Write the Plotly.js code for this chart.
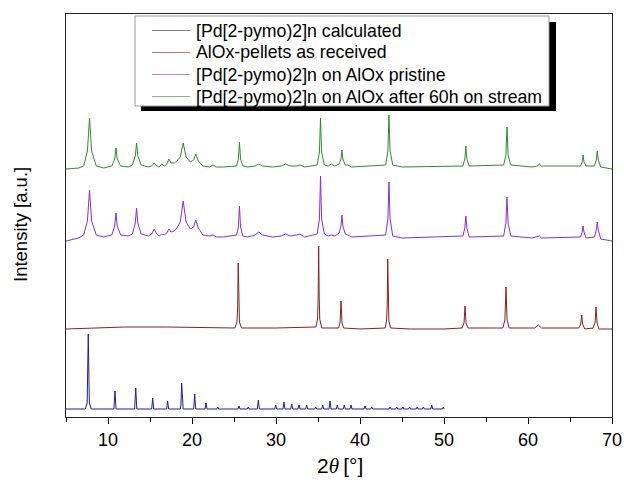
<!DOCTYPE html>
<html>
<head>
<meta charset="utf-8">
<script src="https://cdn.plot.ly/plotly-3.0.1.min.js"></script>
<style>html,body{margin:0;padding:0;background:#fff;}#chart{width:624px;height:489px;}</style>
</head>
<body>
<div id="chart"></div>
<script>
// Series names (legend order)
const seriesNames = [
  "[Pd[2-pymo)2]n calculated",
  "AlOx-pellets as received",
  "[Pd[2-pymo)2]n on AlOx pristine",
  "[Pd[2-pymo)2]n on AlOx after 60h on stream"
];
const xTickVals = [10, 20, 30, 40, 50, 60, 70];

// [2theta, stacked intensity (a.u.)]
const calculated = [
  [5,8],[7.3,8],[7.52,14],[7.65,83],[7.78,14],[8.0,8],
  [10.7,8],[10.83,26],[10.96,8],[13.17,8],[13.3,29],[13.43,8],
  [15.2,8],[15.32,19],[15.44,8],[16.98,8],[17.1,16],[17.22,8],
  [18.6,8],[18.68,12],[18.77,34],[18.86,12],[18.95,8],[20.2,8],[20.32,23],[20.44,8],
  [21.55,8],[21.67,14],[21.79,8],[22.95,8],[23.06,10],[23.17,8],
  [25.48,8],[25.6,11],[25.72,8],[26.58,8],[26.7,10],[26.82,8],[27.78,8],[27.9,17],[28.02,8],
  [29.84,8],[29.96,12],[30.08,8],[30.83,8],[30.95,15],[31.07,8],[31.75,8],[31.87,13],[31.99,8],
  [32.62,8],[32.74,12],[32.86,8],[33.53,8],[33.65,12],[33.77,8],[34.61,8],[34.73,10],[34.85,8],
  [35.44,8],[35.56,12],[35.68,8],[36.31,8],[36.43,16],[36.55,8],[37.18,8],[37.3,12],[37.42,8],
  [38.01,8],[38.13,12],[38.25,8],[38.81,8],[38.93,12],[39.05,8],[40.48,8],[40.6,11],[40.72,8],
  [41.27,8],[41.39,10],[41.51,8],[43.45,8],[43.57,10],[43.69,8],[44.25,8],[44.37,10],[44.49,8],
  [44.98,8],[45.1,10],[45.22,8],[45.78,8],[45.9,10],[46.02,8],[46.68,8],[46.8,10],[46.92,8],
  [47.42,8],[47.54,10],[47.66,8],[48.42,8],[48.54,12],[48.66,8],[49.8,8],[49.92,10],[50,8]
];
const asReceived = [
  [5,88],[8,89],[12,90],[17,90],[22,89],[25.1,89],[25.35,95],[25.44,110],[25.5,154],[25.56,110],[25.65,95],[25.9,89],[30,89],
  [34.75,90],[34.95,98],[35.02,120],[35.08,171],[35.14,120],[35.21,98],[35.45,89],[37.45,89],[37.62,94],[37.74,116],[37.86,94],[38.05,89],
  [40,88],[43.0,89],[43.16,96],[43.24,112],[43.3,158],[43.36,112],[43.44,96],[43.65,89],[46,88],[50,88],
  [52.15,89],[52.38,94],[52.5,111],[52.62,94],[52.85,89],[57.0,89],[57.25,97],[57.38,130],[57.51,97],[57.75,89],
  [60.8,89],[61.23,92],[61.6,89],[66.05,89],[66.28,93],[66.39,102],[66.5,93],[66.75,88],
  [67.75,89],[67.98,94],[68.1,110],[68.22,94],[68.45,88],[70,88]
];
const pristine = [
  [5,176],[6.5,179],[7.1,182],[7.55,196],[7.8,227],[8.05,196],[8.6,182],[9.5,180],
  [10.45,182],[10.8,191],[10.95,204],[11.1,191],[11.5,182],[12.4,181],
  [12.9,183],[13.25,194],[13.4,209],[13.55,194],[13.95,183],[14.8,181],
  [15.2,183],[15.5,188],[15.8,183],[16.1,181],[16.4,183],[16.7,182],[17.0,184],[17.25,188],[17.5,185],
  [17.9,186],[18.2,189],[18.6,195],[18.95,216],[19.3,195],[19.8,188],[20.2,190],[20.45,197],[20.75,189],
  [21.3,182],[22.1,181],[22.5,182],[22.9,180],[23.7,180],
  [25.3,182],[25.52,190],[25.65,211],[25.78,190],[26.05,181],[26.65,180],[27.5,182],[27.95,185],[28.4,182],
  [29.6,180],[30.6,181],[31.15,183],[31.7,181],[32.4,182],[32.85,183],[33.4,180],
  [34.9,183],[35.17,198],[35.3,241],[35.43,198],[35.75,183],[36.2,181],[36.6,182],[37.0,181],
  [37.5,184],[37.74,191],[37.85,202],[37.96,191],[38.25,183],[38.55,182],[39,180],
  [43.05,182],[43.32,198],[43.45,235],[43.58,198],[43.9,181],[45,179],
  [52.25,181],[52.48,189],[52.6,201],[52.72,189],[53.0,180],
  [57.1,181],[57.37,194],[57.5,220],[57.63,194],[57.95,181],[60.5,179],[61.1,180],[61.35,181],[61.6,179],
  [66.25,180],[66.45,185],[66.55,191],[66.67,185],[66.9,179],[67.9,180],[68.13,187],[68.25,195],[68.37,187],
  [68.65,178],[70,176]
];
const afterStream = [
  [5,248],[6.5,249],[7.1,251],[7.55,266],[7.8,299],[8.05,266],[8.6,251],[9.5,249],
  [10.45,251],[10.8,258],[10.95,269],[11.1,258],[11.5,251],[12.4,250],
  [12.9,252],[13.25,261],[13.4,274],[13.55,261],[13.95,252],[14.8,250],
  [15.2,251],[15.5,254],[15.8,251],[16.1,250],[16.4,253],[16.7,251],[17.0,253],[17.25,258],[17.5,254],
  [17.9,254],[18.2,256],[18.6,260],[18.95,274],[19.3,260],[19.8,255],[20.2,257],[20.45,263],[20.75,256],
  [21.3,251],[22.1,250],[22.5,252],[22.9,250],[23.7,250],
  [25.3,251],[25.52,258],[25.65,275],[25.78,258],[26.05,251],[26.65,250],[27.5,251],[27.95,253],[28.4,251],
  [29.6,250],[30.6,251],[31.15,253],[31.7,251],[32.4,251],[32.85,252],[33.4,250],
  [34.9,252],[35.17,265],[35.3,299],[35.43,265],[35.75,252],[36.2,251],[36.6,253],[37.0,251],
  [37.5,253],[37.74,258],[37.85,267],[37.96,258],[38.25,252],[38.55,252],[39,250],
  [43.05,252],[43.32,266],[43.45,302],[43.58,266],[43.9,252],[45,250],
  [52.25,251],[52.48,258],[52.6,271],[52.72,258],[53.0,251],
  [57.1,252],[57.37,262],[57.5,290],[57.63,262],[57.95,252],[60.5,250],[61.1,251],[61.35,253],[61.6,251],
  [66.25,251],[66.45,255],[66.55,262],[66.67,255],[66.9,251],[67.9,251],[68.13,257],[68.25,266],[68.37,257],
  [68.65,250],[70,248]
];

const seriesData = [calculated, asReceived, pristine, afterStream];
const colors = ["#1f1f96", "#8b2020", "#8a2be0", "#2e8b2e"];

const traces = seriesData.map((d, i) => ({
  type: "scatter", mode: "lines", name: seriesNames[i],
  x: d.map(p => p[0]), y: d.map(p => p[1]),
  line: {color: colors[i], width: 1}, showlegend: false, hoverinfo: "skip"
}));

// manual legend (box with drop shadow)
const L = 66, R = 612, T = 14, B = 417;
const px = v => (v - L) / (R - L);
const py = v => (B - v) / (B - T);
const rows = [30.5, 52.5, 74.5, 96.5];
const shapes = [
  {type:"rect", xref:"paper", yref:"paper", x0:px(141), x1:px(556), y0:py(111), y1:py(22), fillcolor:"#000", line:{width:0}, layer:"above"},
  {type:"rect", xref:"paper", yref:"paper", x0:px(135), x1:px(549), y0:py(106), y1:py(16), fillcolor:"#fff", line:{color:"#999", width:1}, layer:"above"}
];
const annotations = [];
rows.forEach((r, i) => {
  shapes.push({type:"line", xref:"paper", yref:"paper", x0:px(152), x1:px(190), y0:py(r), y1:py(r), line:{color:colors[i], width:1}, opacity:0.6, layer:"above"});
  annotations.push({xref:"paper", yref:"paper", x:px(194), y:py(r), xanchor:"left", yanchor:"middle", showarrow:false,
    text: seriesNames[i], font:{family:"Arial, Liberation Sans", size:17.7, color:"#000"}});
});
annotations.push({xref:"paper", yref:"paper", x:px(21), y:py(225), xanchor:"center", yanchor:"middle", showarrow:false, textangle:-90,
  text:"Intensity [a.u.]", font:{family:"Arial, Liberation Sans", size:18.5, color:"#000"}});
annotations.push({xref:"paper", yref:"paper", x:px(340), y:py(466), xanchor:"center", yanchor:"middle", showarrow:false,
  text:"2<span style=\"font-family:'Liberation Serif','DejaVu Serif',serif\"><i>θ</i></span>\u2009[°]", font:{family:"Arial, Liberation Sans", size:21, color:"#000"}});

const layout = {
  width: 624, height: 489,
  margin: {l: L, r: 624 - R, t: T, b: 489 - B, pad: 0},
  paper_bgcolor: "#fff", plot_bgcolor: "#fff",
  showlegend: false,
  xaxis: {
    range: [5, 70], tickvals: xTickVals, ticktext: xTickVals.map(String),
    ticks: "outside", ticklen: 6, tickwidth: 1, tickcolor: "#000",
    showline: true, mirror: true, linecolor: "#222", linewidth: 1,
    showgrid: false, zeroline: false,
    tickfont: {family: "Arial, Liberation Sans", size: 18, color: "#000"},
    minor: {dtick: 5, tick0: 0, ticks: "outside", ticklen: 4, tickwidth: 1, tickcolor: "#000", showgrid: false}
  },
  yaxis: {
    range: [0, 403], showticklabels: false, ticks: "",
    showline: true, mirror: true, linecolor: "#222", linewidth: 1,
    showgrid: false, zeroline: false
  },
  shapes: shapes, annotations: annotations
};

Plotly.newPlot("chart", traces, layout, {staticPlot: true, displayModeBar: false});
</script>
</body>
</html>
